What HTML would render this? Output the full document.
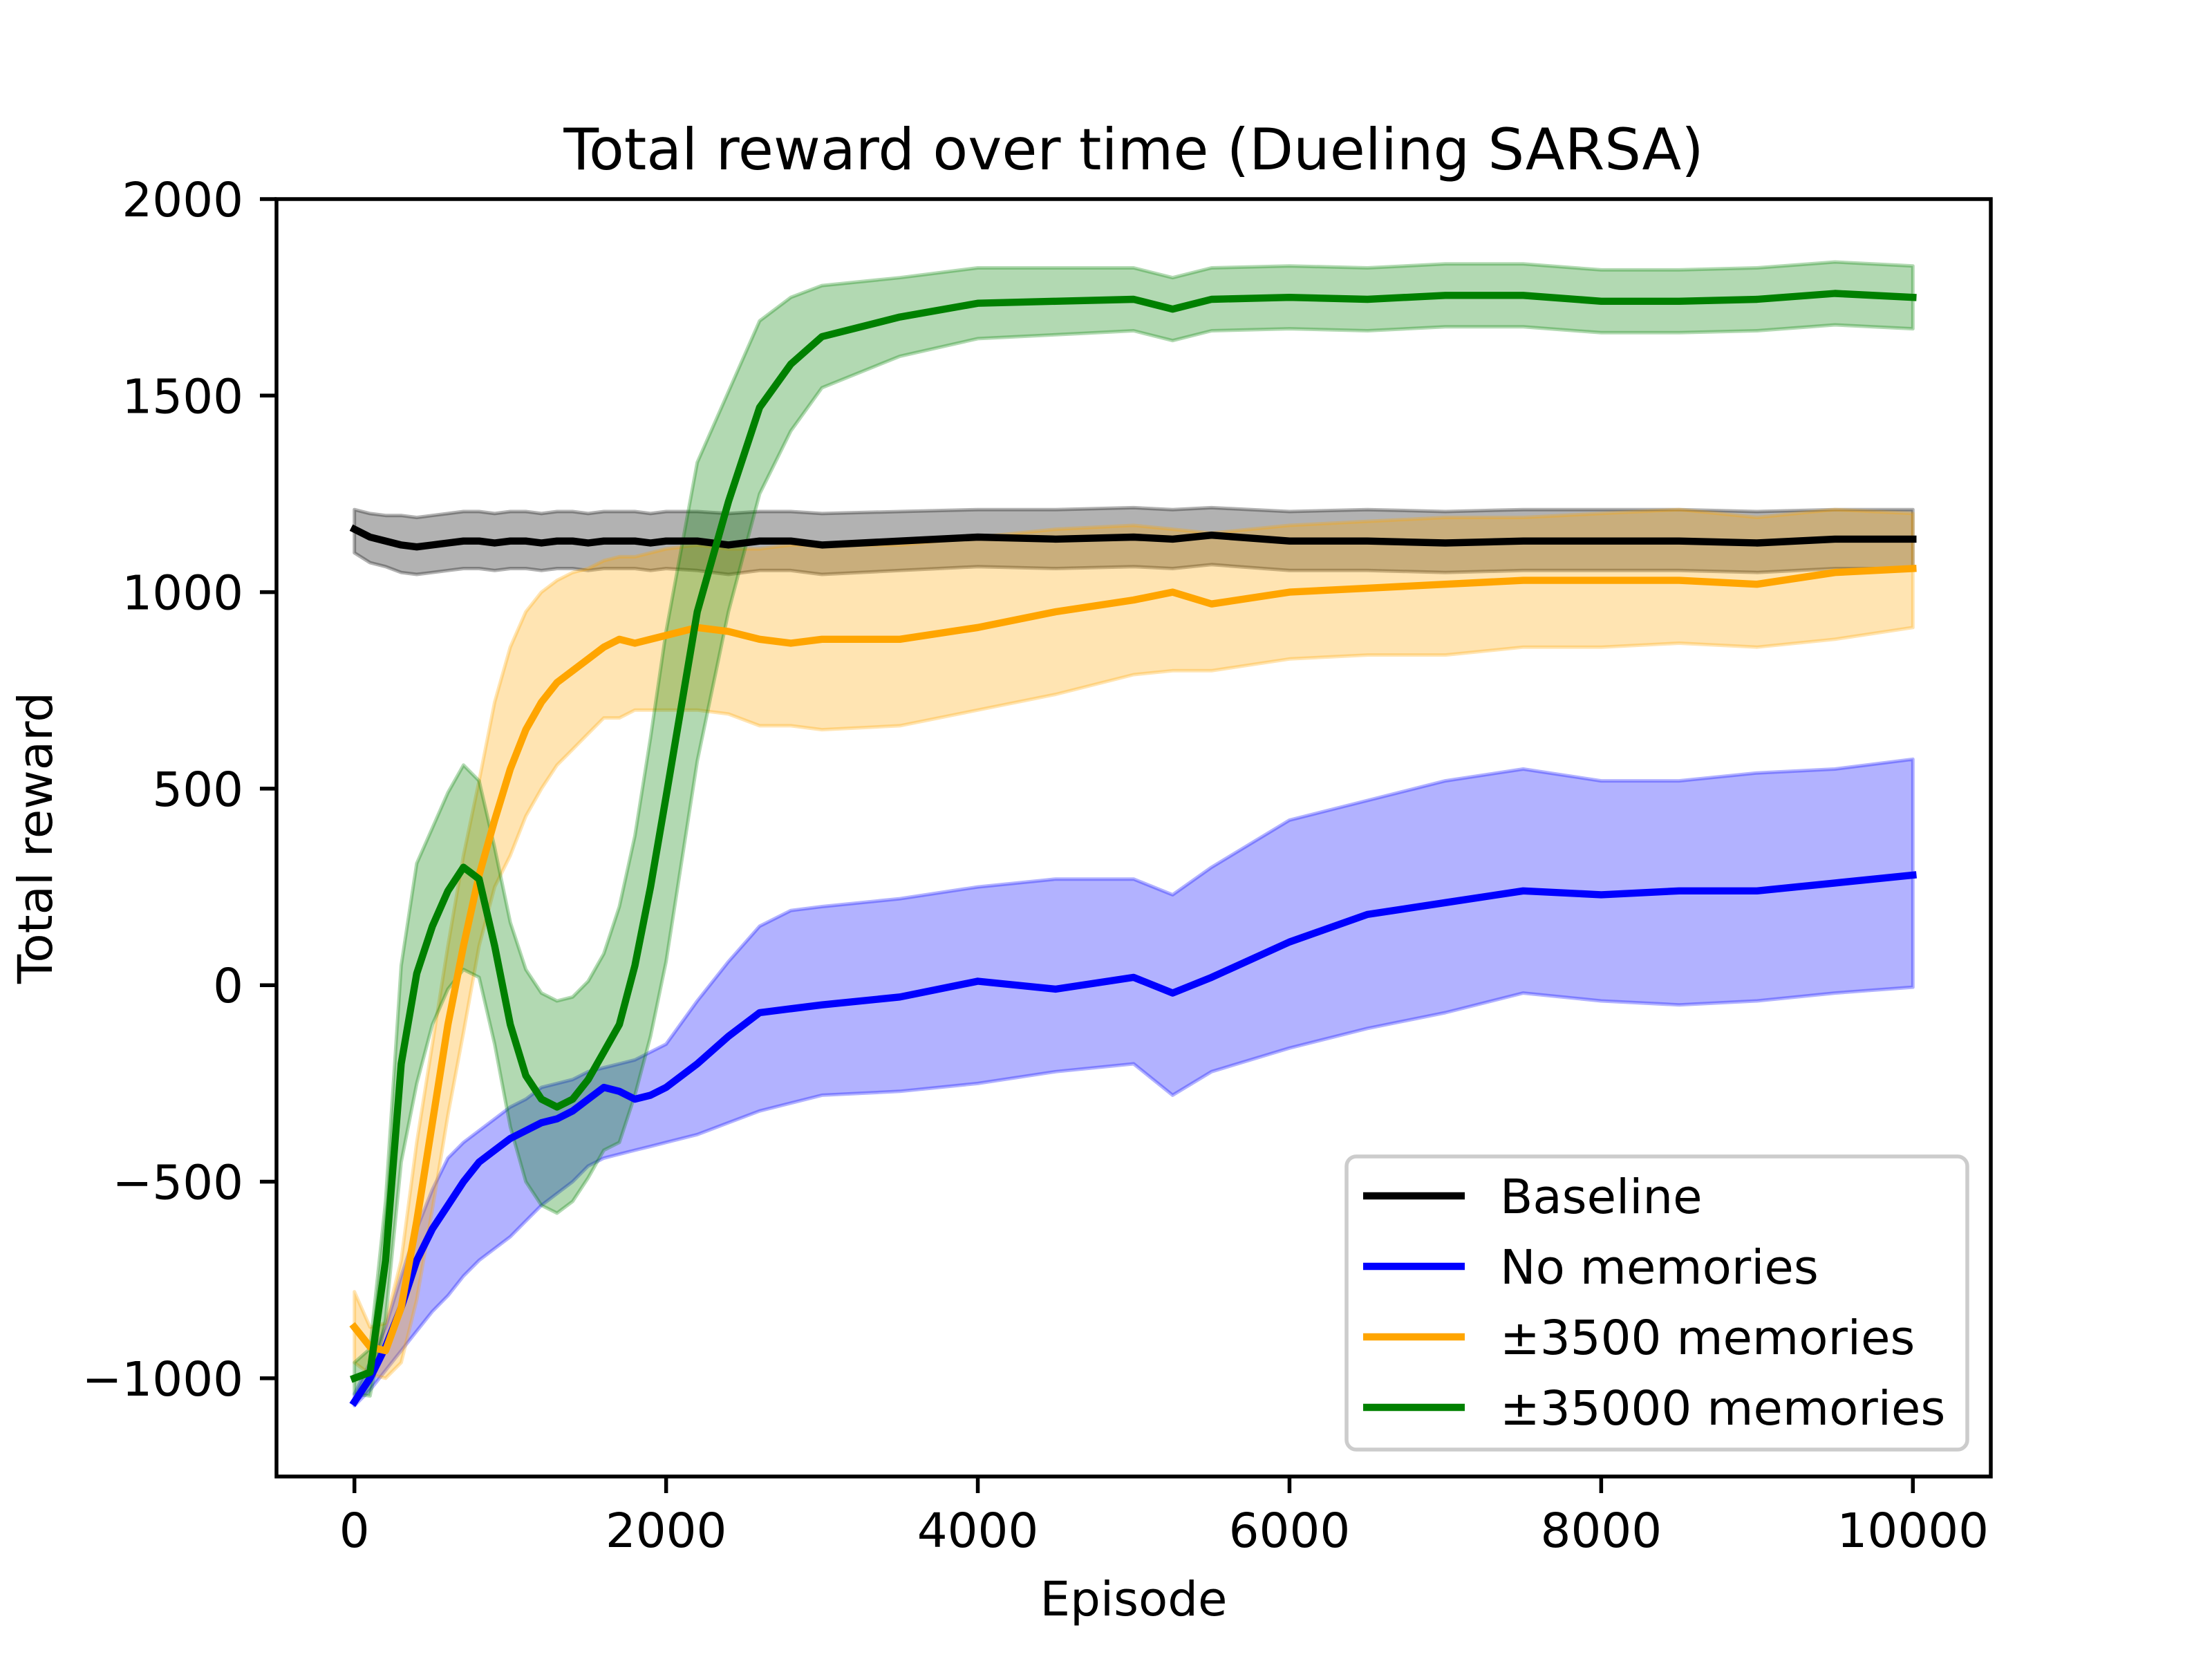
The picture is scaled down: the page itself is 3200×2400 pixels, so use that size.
<!DOCTYPE html>
<html><head><meta charset="utf-8">
<style>
html,body{margin:0;padding:0;background:#fff;}
svg{display:block;font-family:"DejaVu Sans","Liberation Sans",sans-serif;}
</style></head>
<body>
<svg id="chart" width="3200" height="2400" viewBox="0 0 3200 2400" xmlns="http://www.w3.org/2000/svg">
<rect x="0" y="0" width="3200" height="2400" fill="#fff"/>
<g id="plot"></g>
<g id="axes"></g>
<text x="1640" y="245" font-size="83" text-anchor="middle">Total reward over time (Dueling SARSA)</text>
<text x="1640" y="2337" font-size="69" text-anchor="middle">Episode</text>
<text transform="translate(75,1212) rotate(-90)" font-size="69" text-anchor="middle">Total reward</text>
<g id="legend"></g>
</svg>
<script>
const episodes = [0,100,200,300,400,500,600,700,800,900,1000,1100,1200,1300,1400,1500,1600,1700,1800,1900,2000,2200,2400,2600,2800,3000,3500,4000,4500,5000,5250,5500,6000,6500,7000,7500,8000,8500,9000,9500,10000];
const baselineMean = [1160,1140,1130,1120,1115,1120,1125,1130,1130,1125,1130,1130,1125,1130,1130,1125,1130,1130,1130,1125,1130,1130,1120,1130,1130,1120,1130,1140,1135,1140,1135,1145,1130,1130,1125,1130,1130,1130,1125,1135,1135];
const baselineHi = [1210,1200,1195,1195,1190,1195,1200,1205,1205,1200,1205,1205,1200,1205,1205,1200,1205,1205,1205,1200,1205,1205,1200,1205,1205,1200,1205,1210,1210,1215,1210,1215,1205,1210,1205,1210,1210,1210,1205,1210,1210];
const baselineLo = [1100,1075,1065,1050,1045,1050,1055,1060,1060,1055,1060,1060,1055,1060,1060,1055,1060,1060,1060,1055,1060,1055,1045,1055,1055,1045,1055,1065,1060,1065,1060,1070,1055,1055,1050,1055,1055,1055,1050,1060,1060];
const noMemMean = [-1060,-1000,-920,-820,-700,-620,-560,-500,-450,-420,-390,-370,-350,-340,-320,-290,-260,-270,-290,-280,-260,-200,-130,-70,-60,-50,-30,10,-10,20,-20,20,110,180,210,240,230,240,240,260,280];
const noMemHi = [-1040,-960,-870,-740,-620,-520,-440,-400,-370,-340,-310,-290,-260,-250,-240,-220,-210,-200,-190,-170,-150,-40,60,150,190,200,220,250,270,270,230,300,420,470,520,550,520,520,540,550,575];
const noMemLo = [-1070,-1030,-980,-930,-880,-830,-790,-740,-700,-670,-640,-600,-560,-530,-500,-460,-440,-430,-420,-410,-400,-380,-350,-320,-300,-280,-270,-250,-220,-200,-280,-220,-160,-110,-70,-20,-40,-50,-40,-20,-5];
const mem3500Mean = [-870,-920,-930,-820,-600,-350,-100,100,280,420,550,650,720,770,800,830,860,880,870,880,890,910,900,880,870,880,880,910,950,980,1000,970,1000,1010,1020,1030,1030,1030,1020,1050,1060];
const mem3500Hi = [-780,-870,-860,-700,-400,-150,100,330,520,720,860,950,1000,1030,1050,1060,1080,1090,1090,1100,1110,1120,1110,1110,1120,1120,1120,1140,1160,1170,1160,1150,1170,1180,1190,1190,1200,1210,1190,1210,1200];
const mem3500Lo = [-960,-990,-1000,-960,-800,-570,-330,-120,100,250,330,430,500,560,600,640,680,680,700,700,700,700,690,660,660,650,660,700,740,790,800,800,830,840,840,860,860,870,860,880,910];
const mem35000Mean = [-1000,-985,-700,-200,30,150,240,300,270,100,-100,-230,-290,-310,-290,-240,-170,-100,50,250,480,950,1230,1470,1580,1650,1700,1735,1740,1745,1720,1745,1750,1745,1755,1755,1740,1740,1745,1760,1750];
const mem35000Std = [40,60,150,250,280,250,250,260,250,250,260,270,270,270,260,250,250,300,330,380,420,380,280,220,170,130,100,90,85,80,80,80,80,80,80,80,80,80,80,80,80];
const xTicks = [0,2000,4000,6000,8000,10000];
const yTicks = [-1000,-500,0,500,1000,1500,2000];
const seriesNames = ["Baseline","No memories","\u00b13500 memories","\u00b135000 memories"];

const NS = "http://www.w3.org/2000/svg";
const L=400,R=2880,T=288,B=2136, XMIN=-500,XMAX=10500,YMIN=-1250,YMAX=2000;
function xs(v){return L+(v-XMIN)/(XMAX-XMIN)*(R-L);}
function ys(v){return B-(v-YMIN)/(YMAX-YMIN)*(B-T);}
function mk(tag,attrs,parent){const e=document.createElementNS(NS,tag);for(const k in attrs)e.setAttribute(k,attrs[k]);parent.appendChild(e);return e;}
const plot=document.getElementById('plot');
const axes=document.getElementById('axes');
const cp=mk('clipPath',{id:'clip'},plot);mk('rect',{x:L,y:T,width:R-L,height:B-T},cp);
const g=mk('g',{'clip-path':'url(#clip)'},plot);

function band(lo,hi,color,name){
  let d='M'+episodes.map((x,i)=>xs(x).toFixed(1)+','+ys(hi[i]).toFixed(1)).join('L');
  for(let i=episodes.length-1;i>=0;i--) d+='L'+xs(episodes[i]).toFixed(1)+','+ys(lo[i]).toFixed(1);
  const p=mk('path',{d:d+'Z',fill:color,'fill-opacity':0.3,stroke:color,'stroke-opacity':0.3,'stroke-width':5,'stroke-linejoin':'round'},g);
  
  
}
function line(vals,color,name){
  const d='M'+episodes.map((x,i)=>xs(x).toFixed(1)+','+ys(vals[i]).toFixed(1)).join('L');
  const p=mk('path',{d:d,fill:'none',stroke:color,'stroke-width':10.4,'stroke-linejoin':'round','stroke-linecap':'square'},g);
  
  
}
const m35Hi=mem35000Mean.map((v,i)=>v+mem35000Std[i]);
const m35Lo=mem35000Mean.map((v,i)=>v-mem35000Std[i]);
band(baselineLo,baselineHi,'#000000','baseline');
band(noMemLo,noMemHi,'#0000ff','no-memories');
band(mem3500Lo,mem3500Hi,'#ffa500','mem3500');
band(m35Lo,m35Hi,'#008000','mem35000');
line(baselineMean,'#000000','baseline');
line(noMemMean,'#0000ff','no-memories');
line(mem3500Mean,'#ffa500','mem3500');
line(mem35000Mean,'#008000','mem35000');

const frame=mk('rect',{x:L,y:T,width:R-L,height:B-T,fill:'none',stroke:'#000','stroke-width':5.5},axes);


xTicks.forEach(v=>{
  const t=mk('line',{x1:xs(v),x2:xs(v),y1:B,y2:B+24,stroke:'#000','stroke-width':5.5},axes);
  
  
  const tx=mk('text',{x:xs(v),y:B+102,'font-size':69,'text-anchor':'middle'},axes);
  tx.textContent=String(v);
  
  
});
yTicks.forEach(v=>{
  const t=mk('line',{x1:L-24,x2:L,y1:ys(v),y2:ys(v),stroke:'#000','stroke-width':5.5},axes);
  
  
  const tx=mk('text',{x:L-48,y:ys(v)+25,'font-size':69,'text-anchor':'end'},axes);
  tx.textContent=(v<0?'\u2212':'')+Math.abs(v);
  
  
});

const leg=document.getElementById('legend');
const lb=mk('rect',{x:1948,y:1673,width:898,height:424,rx:14,fill:'#fff','fill-opacity':0.8,stroke:'#cccccc','stroke-width':5.5},leg);


const legColors=['#000000','#0000ff','#ffa500','#008000'];
seriesNames.forEach((n,i)=>{
  const y=1730+i*102;
  const ln=mk('line',{x1:1972,x2:2119,y1:y,y2:y,stroke:legColors[i],'stroke-width':10.4},leg);
  
  
  const tx=mk('text',{x:2170,y:y+25,'font-size':69},leg);
  tx.textContent=n;
  
  
});
</script>
</body></html>
